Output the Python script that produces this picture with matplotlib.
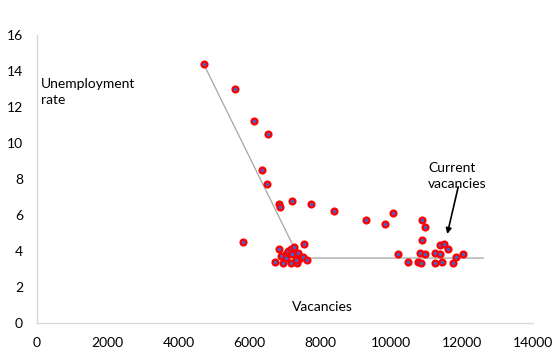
import matplotlib.pyplot as plt

# unemployment rate vs vacancies
vacancies = [
    4700, 5577, 6113, 6507, 6338, 6479, 6817, 6850, 7183, 7746, 8394, 9296,
    9831, 10056, 5800, 7521,
    6817, 6704, 6930, 6873, 7014, 7014, 7070, 7155, 7239, 7183, 7155, 7324,
    7352, 7408, 7296, 7493, 7606,
    10873, 10958, 10873, 10197, 10479, 10761, 10845, 10817, 10958, 11239,
    11239, 11380, 11380, 11493, 11606, 11437, 11831, 11746, 12028,
]
unemployment = [
    14.4, 13.0, 11.2, 10.5, 8.5, 7.7, 6.6, 6.45, 6.8, 6.6, 6.2, 5.7,
    5.5, 6.1, 4.5, 4.4,
    4.1, 3.4, 3.3, 3.7, 3.8, 3.6, 4.0, 4.1, 4.2, 3.85, 3.33, 3.3,
    3.9, 3.55, 3.5, 3.67, 3.5,
    5.7, 5.3, 4.6, 3.8, 3.4, 3.4, 3.3, 3.9, 3.8, 3.9,
    3.3, 3.8, 4.3, 4.4, 4.1, 3.4, 3.67, 3.3, 3.8,
]

# stylised Beveridge curve
curve_x = [4700, 7400, 12600]
curve_y = [14.4, 3.6, 3.6]

x_ticks = [0, 2000, 4000, 6000, 8000, 10000, 12000, 14000]
y_ticks = [0, 2, 4, 6, 8, 10, 12, 14, 16]

plt.rcParams['font.family'] = ['Lato', 'DejaVu Sans']

fig = plt.figure(figsize=(5.6, 3.64), dpi=100)
ax = fig.add_axes([0.066, 0.113, 0.886, 0.791])

ax.plot(curve_x, curve_y, color='#a6a6a6', linewidth=0.9, zorder=2)
ax.scatter(vacancies, unemployment, s=18, facecolor='#4a5fc1',
           edgecolor='#ff0000', linewidth=1.6, zorder=3)

ax.set_xlim(0, 14000)
ax.set_ylim(0, 16)
ax.set_xticks(x_ticks)
ax.set_yticks(y_ticks)
ax.tick_params(length=0, labelsize=10, colors='#000000')
ax.tick_params(axis='x', pad=10)
ax.tick_params(axis='y', pad=10)

for side in ['top', 'right']:
    ax.spines[side].set_visible(False)
for side in ['left', 'bottom']:
    ax.spines[side].set_color('#d9d9d9')
    ax.spines[side].set_linewidth(1.0)

ax.text(0.008, 0.85, 'Unemployment\nrate', transform=ax.transAxes,
        fontsize=10, va='top', ha='left', linespacing=1.4)
ax.text(0.575, 0.055, 'Vacancies', transform=ax.transAxes,
        fontsize=10, va='center', ha='center')

# label and arrow pointing at the latest observations
ax.text(11040, 8.15, 'Current\nvacancies', fontsize=10, ha='left',
        va='center', linespacing=1.4)
ax.annotate('', xy=(11577, 4.94), xytext=(11887, 7.56),
            arrowprops=dict(arrowstyle='-|>', color='black', lw=1.2,
                            mutation_scale=8, shrinkA=0, shrinkB=0))

fig.savefig('out.png', dpi=100)
